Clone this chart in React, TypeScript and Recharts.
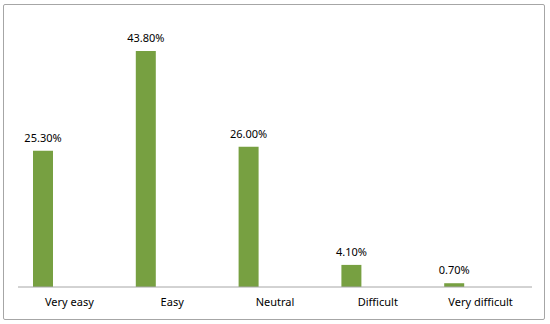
import React from 'react';
import { BarChart, Bar, XAxis, YAxis, LabelList } from 'recharts';

const categories = ['Very easy', 'Easy', 'Neutral', 'Difficult', 'Very difficult'];
const percentages = [25.3, 43.8, 26.0, 4.1, 0.7];
const spacer = [0, 0, 0, 0, 0];

const data = categories.map((name, i) => ({ name, value: percentages[i], spacer: spacer[i] }));

const font = "'Noto Sans', 'Liberation Sans', sans-serif";

export default function App() {
  return (
    <div style={{ position: 'absolute', left: 0, top: 0, width: 550, height: 324, background: '#fff' }}>
      <div
        style={{
          position: 'absolute',
          left: 3,
          top: 4,
          width: 540,
          height: 314,
          border: '1px solid #a6a6a6',
          borderRadius: 2,
        }}
      />
      <div style={{ position: 'absolute', left: 0, top: 0 }}>
        <BarChart
          width={550}
          height={324}
          data={data}
          margin={{ top: 17.5, right: 18, bottom: 7, left: 18 }}
          barGap={0}
        >
          <XAxis
            dataKey="name"
            axisLine={{ stroke: '#a6a6a6' }}
            tickLine={false}
            height={30}
            tickMargin={5}
            tick={{ fill: '#000', fontSize: 11, fontFamily: font }}
            interval={0}
          />
          <YAxis hide domain={[0, 50]} />
          <Bar dataKey="value" fill="#77A041" barSize={20} isAnimationActive={false}>
            <LabelList
              dataKey="value"
              position="top"
              offset={9}
              formatter={(v: any) => `${Number(v).toFixed(2)}%`}
              style={{ fill: '#000', fontSize: 11, fontFamily: font }}
            />
          </Bar>
          <Bar dataKey="spacer" fill="transparent" barSize={52} isAnimationActive={false} />
        </BarChart>
      </div>
    </div>
  );
}
